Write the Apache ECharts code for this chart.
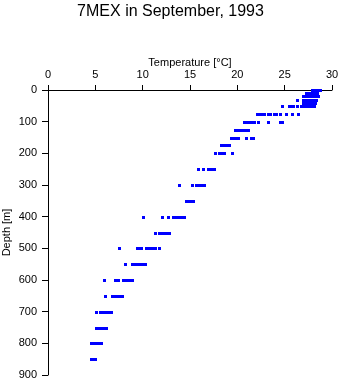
<!DOCTYPE html>
<html>
<head>
<meta charset="utf-8">
<script src="https://cdn.jsdelivr.net/npm/echarts@6/dist/echarts.min.js"></script>
<style>html,body{margin:0;padding:0;background:#fff}#c{width:341px;height:384px}</style>
</head>
<body>
<div id="c"></div>
<script>
// Depth (m) of each observed temperature segment
var depth = [0,10,20,30,30,40,50,50,50,50,
  75,75,75,75,75,75,75,
  100,100,100,100,125,150,150,150,175,200,200,200,
  250,250,250,300,300,300,350,400,400,400,400,450,450,
  500,500,500,500,550,550,600,600,600,650,650,700,700,750,800,850];
// Lowest temperature (°C) of each segment
var tMin = [27.8,27.2,26.8,26.2,26.8,26.8,24.6,25.3,26.2,26.6,
  22.0,23.1,23.8,24.4,25.0,25.7,26.3,
  20.6,22.1,23.1,24.4,19.6,19.2,20.8,21.3,18.2,17.5,18.0,19.3,
  15.7,16.3,16.8,13.7,15.1,15.5,14.5,9.9,11.9,12.6,13.1,11.2,11.6,
  7.4,9.3,10.2,11.6,8.0,8.8,5.8,7.0,7.8,5.9,6.7,5.0,5.4,5.0,4.4,4.4];
// Highest temperature (°C) of each segment
var tMax = [28.9,28.6,28.7,26.5,28.5,28.4,24.9,26.1,26.5,28.3,
  23.0,23.7,24.3,24.7,25.3,25.9,26.6,
  22.0,22.4,23.4,24.9,21.3,20.3,21.1,21.9,19.3,17.9,18.8,19.6,
  16.1,16.6,17.7,14.0,15.4,16.7,15.5,10.2,12.2,12.9,14.6,11.5,13.0,
  7.7,10.0,11.5,11.9,8.3,10.5,6.1,7.6,9.1,6.2,8.0,5.3,6.9,6.3,5.8,5.2];
var xTicks = [0,5,10,15,20,25,30];
var yTicks = [0,100,200,300,400,500,600,700,800,900];

var data = depth.map(function(d,i){ return [tMin[i], tMax[i], d]; });
var font = 'Liberation Sans, Arial, Helvetica, sans-serif';
var chart = echarts.init(document.getElementById('c'), null, {renderer:'canvas'});
chart.setOption({
  animation:false,
  backgroundColor:'#fff',
  title:{text:'7MEX in September, 1993', left:'center', top:-1,
    textStyle:{fontFamily:font, fontSize:16, fontWeight:'normal', color:'#000'}},
  grid:{left:48, top:90, width:284, height:285, containLabel:false, outerBoundsMode:'none'},
  xAxis:{type:'value', position:'top', min:xTicks[0], max:xTicks[xTicks.length-1], interval:5,
    name:'Temperature [°C]', nameLocation:'middle', nameGap:22, nameMoveOverlap:false,
    nameTextStyle:{fontFamily:font, fontSize:11, color:'#000'},
    axisLine:{show:true, lineStyle:{color:'#000', width:1}},
    axisTick:{show:true, length:5, lineStyle:{color:'#000'}},
    axisLabel:{fontFamily:font, fontSize:11, color:'#000', margin:10},
    splitLine:{show:false}},
  yAxis:{type:'value', inverse:true, min:yTicks[0], max:yTicks[yTicks.length-1], interval:100,
    name:'Depth [m]', nameLocation:'middle', nameGap:36, nameMoveOverlap:false,
    nameTextStyle:{fontFamily:font, fontSize:11, color:'#000'},
    axisLine:{show:true, lineStyle:{color:'#000', width:1}},
    axisTick:{show:true, length:6, lineStyle:{color:'#000'}},
    axisLabel:{fontFamily:font, fontSize:11, color:'#000', margin:11},
    splitLine:{show:false}},
  series:[{
    type:'custom',
    data:data,
    encode:{x:[0,1], y:2},
    renderItem:function(params, api){
      var a = api.coord([api.value(0), api.value(2)]);
      var b = api.coord([api.value(1), api.value(2)]);
      var x0 = Math.round(a[0]), x1 = Math.round(b[0]);
      if (x1 - x0 < 3) x1 = x0 + 3;
      return {type:'rect', shape:{x:x0, y:Math.round(a[1])-1, width:x1-x0, height:3},
        style:{fill:'#0000ff'}};
    }
  }]
});
</script>
</body>
</html>
